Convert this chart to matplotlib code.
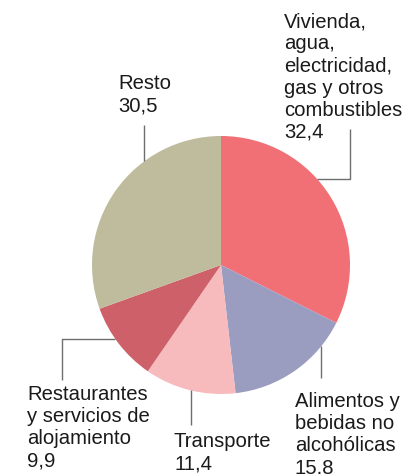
import matplotlib
matplotlib.use("Agg")
import matplotlib.pyplot as plt

categories = ["Vivienda, agua, electricidad, gas y otros combustibles",
              "Alimentos y bebidas no alcohólicas",
              "Transporte",
              "Restaurantes y servicios de alojamiento",
              "Resto"]
values = [32.4, 15.8, 11.4, 9.9, 30.5]
value_labels = ["32,4", "15,8", "11,4", "9,9", "30,5"]
label_lines = [["Vivienda,", "agua,", "electricidad,", "gas y otros", "combustibles"],
               ["Alimentos y", "bebidas no", "alcohólicas"],
               ["Transporte"],
               ["Restaurantes", "y servicios de", "alojamiento"],
               ["Resto"]]
colors = ["#f07076", "#9b9dc0", "#f7babd", "#cd6068", "#bfbc9e"]

W, H = 404, 474
fig = plt.figure(figsize=(W / 100, H / 100), dpi=100)
ax = fig.add_axes([0, 0, 1, 1])

cx, cy, R = 221, 265, 129
# y axis inverted -> counterclock=True gives clockwise on screen; start at top
ax.pie(values, colors=colors, startangle=-90, counterclock=True,
       center=(cx, cy), radius=R, frame=True,
       wedgeprops=dict(linewidth=0))
ax.set_xlim(0, W)
ax.set_ylim(H, 0)
ax.set_aspect("equal")
ax.axis("off")

# label text placement (x, first baseline)
text_pos = [(284, 27), (295, 407), (174, 447), (27, 400), (118, 89)]
leaders = [
    [(317, 179), (350, 179), (350, 129)],
    [(321, 346), (321, 378)],
    [(191, 390), (191, 425)],
    [(115, 339), (62, 339), (62, 380)],
    [(144, 161), (144, 125)],
]
step = 22.2
font = dict(family=["Liberation Sans", "DejaVu Sans"], fontsize=14.6, color="#1a1a1a")
for lines, val, (tx, ty), pts in zip(label_lines, value_labels, text_pos, leaders):
    for i, ln in enumerate(lines + [val]):
        ax.text(tx, ty + i * step, ln, ha="left", va="baseline", **font)
    xs = [p[0] for p in pts]
    ys = [p[1] for p in pts]
    ax.plot(xs, ys, color="#6e6e6e", linewidth=1.0, solid_capstyle="butt")

fig.savefig("out.png", dpi=100)
